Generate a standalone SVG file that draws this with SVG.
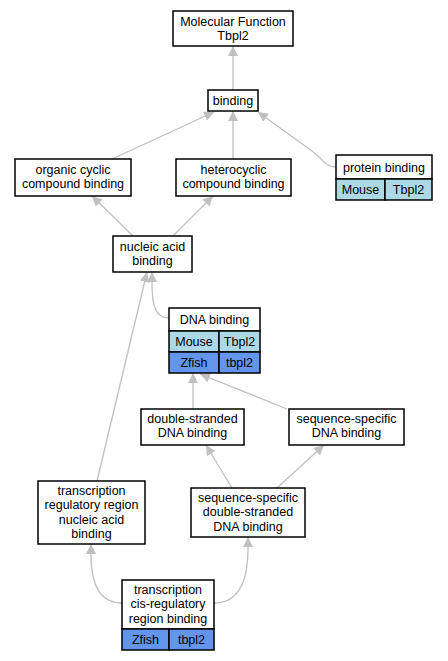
<svg xmlns="http://www.w3.org/2000/svg" width="448" height="661" viewBox="0 0 448 661">
<style>
.n rect{fill:#fff;stroke:#000;stroke-width:1.5}
.n rect.m{fill:#add8e6}
.n rect.z{fill:#6495ed}
text{font-family:"Liberation Sans",Arial,sans-serif;font-size:12.5px;fill:#000;text-anchor:middle}
#edges path{fill:none;stroke:#c0c0c0;stroke-width:1.3;marker-end:url(#ah)}
</style>
<defs>
<marker id="ah" markerUnits="userSpaceOnUse" markerWidth="10" markerHeight="10" refX="10" refY="5" orient="auto" viewBox="0 0 10 10">
<path d="M0,0 L10,5 L0,10 z" fill="#c0c0c0"/>
</marker>
</defs>
<rect width="448" height="661" fill="#fff"/>
<g id="edges">
<path d="M233,90 L233,46"/>
<path d="M112,159 L214,112"/>
<path d="M233,159 L233,111"/>
<path d="M336,167 C325,167 322,158 312,151 L258,112"/>
<path d="M133,236 L92,196"/>
<path d="M173,236 L213,196"/>
<path d="M169,318 C155,318 152,305 152,283 L152,272"/>
<path d="M97,481 L147,272"/>
<path d="M193,409 L193,373"/>
<path d="M287,409 L200,374"/>
<path d="M232,488 L206,445"/>
<path d="M277,488 L324,445"/>
<path d="M122,603 C100,603 91,585 91,555 L91,544"/>
<path d="M214,603 C236,603 248,585 248,548 L248,537"/>
</g>
<g id="mf" class="n"><rect x="173" y="11" width="120" height="35"/><text x="233" y="26">Molecular Function</text><text x="233" y="40.4">Tbpl2</text></g>
<g id="binding" class="n"><rect x="208" y="90" width="50" height="21"/><text x="233" y="105">binding</text></g>
<g id="organic" class="n"><rect x="15" y="159" width="116" height="37"/><text x="73" y="174">organic cyclic</text><text x="73" y="188.4">compound binding</text></g>
<g id="hetero" class="n"><rect x="176" y="159" width="115" height="37"/><text x="233.5" y="174">heterocyclic</text><text x="233.5" y="188.4">compound binding</text></g>
<g id="protein" class="n"><rect x="336" y="155" width="96" height="24"/><rect class="m" x="336" y="179" width="49" height="21"/><rect class="m" x="385" y="179" width="47" height="21"/><text x="384" y="171.5">protein binding</text><text x="360.5" y="194">Mouse</text><text x="408.5" y="194">Tbpl2</text></g>
<g id="nucleic" class="n"><rect x="113" y="236" width="79" height="36"/><text x="152.5" y="251">nucleic acid</text><text x="152.5" y="265.4">binding</text></g>
<g id="dna" class="n"><rect x="169" y="308" width="91" height="23"/><rect class="m" x="169" y="331" width="50" height="21"/><rect class="m" x="219" y="331" width="41" height="21"/><rect class="z" x="169" y="352" width="50" height="21"/><rect class="z" x="219" y="352" width="41" height="21"/><text x="214.5" y="324">DNA binding</text><text x="194" y="346">Mouse</text><text x="239.5" y="346">Tbpl2</text><text x="194" y="367">Zfish</text><text x="239.5" y="367">tbpl2</text></g>
<g id="ds" class="n"><rect x="141" y="409" width="103" height="36"/><text x="192.5" y="423">double-stranded</text><text x="192.5" y="437.4">DNA binding</text></g>
<g id="ss" class="n"><rect x="289" y="409" width="115" height="36"/><text x="346.5" y="423">sequence-specific</text><text x="346.5" y="437.4">DNA binding</text></g>
<g id="treg" class="n"><rect x="38" y="481" width="107" height="63"/><text x="91.5" y="495">transcription</text><text x="91.5" y="509.4">regulatory region</text><text x="91.5" y="523.8">nucleic acid</text><text x="91.5" y="538.2">binding</text></g>
<g id="ssds" class="n"><rect x="191" y="488" width="114" height="49"/><text x="248" y="502">sequence-specific</text><text x="248" y="516.4">double-stranded</text><text x="248" y="530.8">DNA binding</text></g>
<g id="cis" class="n"><rect x="122" y="580" width="92" height="49"/><rect class="z" x="122" y="629" width="47" height="21"/><rect class="z" x="169" y="629" width="45" height="21"/><text x="168" y="594">transcription</text><text x="168" y="608.4">cis-regulatory</text><text x="168" y="622.8">region binding</text><text x="145.5" y="644">Zfish</text><text x="191.5" y="644">tbpl2</text></g>
</svg>
